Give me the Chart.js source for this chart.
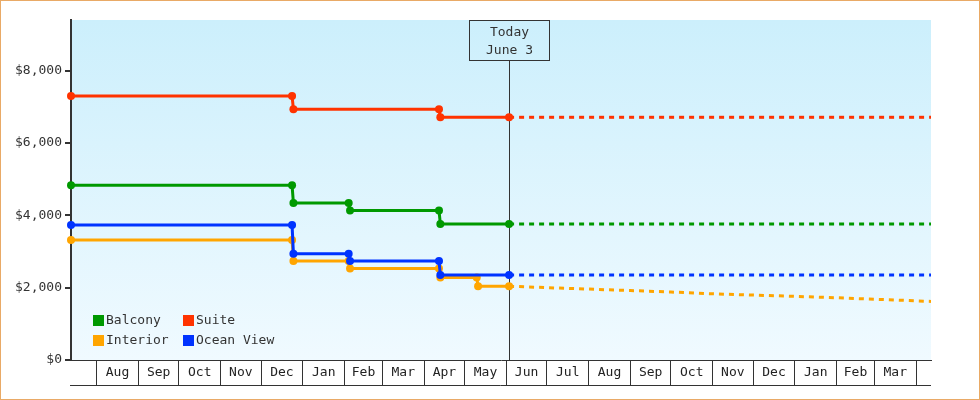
<!DOCTYPE html>
<html>
<head>
<meta charset="utf-8">
<title>Cabin fares</title>
<script src="https://cdn.jsdelivr.net/npm/chart.js@4.4.1/dist/chart.umd.min.js"></script>
<style>
    html, body { margin: 0; padding: 0; background: #ffffff; }
    #wrap { width: 980px; height: 400px; }
</style>
</head>
<body>
<div id="wrap"><canvas id="fareChart" width="980" height="400"></canvas></div>
<script>
const seriesNames = ["Balcony", "Suite", "Interior", "Ocean View"];
const monthNames = ["Jan", "Feb", "Mar", "Apr", "May", "Jun", "Jul", "Aug", "Sep", "Oct", "Nov", "Dec"];
const yTicks = [0, 2000, 4000, 6000, 8000];
const yMax = 9400;

const rangeStart = "2021-07-13";
const rangeEnd = "2023-04-12";
const todayDate = "2022-06-03";
const todayText = ["Today", "June 3"];

const suiteDates = ["2021-07-13", "2021-12-24", "2021-12-25", "2022-04-12", "2022-04-13", "2022-06-03"];
const suitePrices = [7300, 7300, 6930, 6930, 6710, 6710];

const balconyDates = ["2021-07-13", "2021-12-24", "2021-12-25", "2022-02-04", "2022-02-05", "2022-04-12", "2022-04-13", "2022-06-03"];
const balconyPrices = [4830, 4830, 4340, 4340, 4130, 4130, 3760, 3760];

const oceanViewDates = ["2021-07-13", "2021-12-24", "2021-12-25", "2022-02-04", "2022-02-05", "2022-04-12", "2022-04-13", "2022-06-03"];
const oceanViewPrices = [3730, 3730, 2940, 2940, 2740, 2740, 2350, 2350];

const interiorDates = ["2021-07-13", "2021-12-24", "2021-12-25", "2022-02-04", "2022-02-05", "2022-04-12", "2022-04-13", "2022-05-10", "2022-05-11", "2022-06-03"];
const interiorPrices = [3320, 3320, 2740, 2740, 2530, 2530, 2280, 2280, 2040, 2040];

const suiteForecastDates = ["2022-06-03", "2023-04-12"];
const suiteForecastPrices = [6710, 6710];
const balconyForecastDates = ["2022-06-03", "2023-04-12"];
const balconyForecastPrices = [3760, 3760];
const oceanViewForecastDates = ["2022-06-03", "2023-04-12"];
const oceanViewForecastPrices = [2350, 2350];
const interiorForecastDates = ["2022-06-03", "2022-07-01", "2022-08-01", "2022-09-01", "2022-10-01", "2022-11-01", "2022-12-01", "2023-01-01", "2023-02-01", "2023-03-01", "2023-04-12"];
const interiorForecastPrices = [2040, 2000, 1960, 1920, 1880, 1830, 1795, 1760, 1720, 1680, 1620];

const seriesColours = {
    "Balcony": "#009900",
    "Suite": "#ff3300",
    "Interior": "#ffa500",
    "Ocean View": "#0033ff"
};
const textColour = "#333333";
const fontFamily = "'DejaVu Sans Mono', 'Liberation Mono', monospace";

function dayNumber(text) {
    const parts = text.split("-").map(Number);
    return Date.UTC(parts[0], parts[1] - 1, parts[2]) / 86400000;
}

function toPoints(dates, prices) {
    return dates.map((date, index) => ({ x: dayNumber(date), y: prices[index] }));
}

function makeDataset(name, dates, prices, isForecast) {
    const colour = seriesColours[name];
    return {
        label: name,
        data: toPoints(dates, prices),
        borderColor: colour,
        backgroundColor: colour,
        pointBackgroundColor: colour,
        borderWidth: 3,
        borderDash: isForecast ? [5, 5] : [],
        pointRadius: isForecast ? 0 : 4,
        pointHoverRadius: isForecast ? 0 : 4,
        pointBorderWidth: 0,
        tension: 0,
        fill: false,
        clip: false
    };
}

function buildMonthTicks(scale) {
    const ticks = [];
    const first = new Date(scale.min * 86400000);
    const year = first.getUTCFullYear();
    let month = first.getUTCMonth() + 1;

    while (true) {
        const start = Date.UTC(year, month, 1) / 86400000;
        if (start > scale.max) {
            break;
        }
        const next = Date.UTC(year, month + 1, 1) / 86400000;
        ticks.push({ value: start, boundary: true });
        if (next <= scale.max) {
            ticks.push({ value: (start + next) / 2, name: monthNames[month % 12] });
        }
        month++;
    }

    scale.ticks = ticks;
}

const backdrop = {
    id: "backdrop",
    beforeDraw(chart) {
        const { ctx, chartArea, width, height } = chart;
        ctx.save();
        ctx.fillStyle = "#ffffff";
        ctx.fillRect(0, 0, width, height);
        const gradient = ctx.createLinearGradient(0, chartArea.top, 0, chartArea.bottom);
        gradient.addColorStop(0, "#cceffc");
        gradient.addColorStop(1, "#f0faff");
        ctx.fillStyle = gradient;
        ctx.fillRect(chartArea.left, chartArea.top, chartArea.right - chartArea.left, chartArea.bottom - chartArea.top);
        ctx.restore();
    },
    afterDraw(chart) {
        const { ctx, chartArea, width, height } = chart;
        ctx.save();
        ctx.strokeStyle = textColour;
        ctx.lineWidth = 1;
        ctx.beginPath();
        ctx.moveTo(chartArea.left - 1, chartArea.bottom + 25.5);
        ctx.lineTo(chartArea.right, chartArea.bottom + 25.5);
        ctx.stroke();
        ctx.strokeStyle = "#e9aa66";
        ctx.strokeRect(0.5, 0.5, width - 1, height - 1);
        ctx.restore();
    }
};

const todayMarker = {
    id: "todayMarker",
    beforeDatasetsDraw(chart) {
        const { ctx, chartArea, scales } = chart;
        const x = Math.round(scales.x.getPixelForValue(dayNumber(todayDate))) + 0.5;
        const top = chartArea.top + 0.5;

        ctx.save();
        ctx.strokeStyle = textColour;
        ctx.lineWidth = 1;
        ctx.strokeRect(x - 40, top, 80, 40);
        ctx.beginPath();
        ctx.moveTo(x, top + 40);
        ctx.lineTo(x, chartArea.bottom);
        ctx.stroke();
        ctx.fillStyle = textColour;
        ctx.font = "13px " + fontFamily;
        ctx.textAlign = "center";
        ctx.textBaseline = "middle";
        ctx.fillText(todayText[0], x, top + 12.5);
        ctx.fillText(todayText[1], x, top + 30);
        ctx.restore();
    }
};

const cornerLegend = {
    id: "cornerLegend",
    afterDatasetsDraw(chart) {
        const { ctx, chartArea } = chart;
        ctx.save();
        ctx.font = "13px " + fontFamily;
        ctx.textAlign = "left";
        ctx.textBaseline = "middle";

        seriesNames.forEach((name, index) => {
            const column = index % 2;
            const row = Math.floor(index / 2);
            const boxX = chartArea.left + 22 + column * 90;
            const boxY = chartArea.bottom - 45 + row * 20;
            ctx.fillStyle = seriesColours[name];
            ctx.fillRect(boxX, boxY, 11, 11);
            ctx.fillStyle = textColour;
            ctx.fillText(name, boxX + 13, boxY + 6);
        });

        ctx.restore();
    }
};

Chart.defaults.font.family = fontFamily;
Chart.defaults.font.size = 13;

new Chart(document.getElementById("fareChart"), {
    type: "line",
    data: {
        datasets: [
            makeDataset("Suite", suiteDates, suitePrices, false),
            makeDataset("Balcony", balconyDates, balconyPrices, false),
            makeDataset("Ocean View", oceanViewDates, oceanViewPrices, false),
            makeDataset("Interior", interiorDates, interiorPrices, false),
            makeDataset("Suite", suiteForecastDates, suiteForecastPrices, true),
            makeDataset("Balcony", balconyForecastDates, balconyForecastPrices, true),
            makeDataset("Ocean View", oceanViewForecastDates, oceanViewForecastPrices, true),
            makeDataset("Interior", interiorForecastDates, interiorForecastPrices, true)
        ]
    },
    options: {
        responsive: false,
        devicePixelRatio: 1,
        animation: false,
        events: [],
        layout: {
            padding: { top: 20, right: 49, bottom: 0, left: 0 }
        },
        plugins: {
            legend: { display: false },
            tooltip: { enabled: false }
        },
        scales: {
            x: {
                type: "linear",
                min: dayNumber(rangeStart),
                max: dayNumber(rangeEnd),
                afterBuildTicks: buildMonthTicks,
                afterFit: (scale) => { scale.height = 40; },
                border: { color: textColour, width: 1 },
                grid: {
                    drawOnChartArea: false,
                    tickLength: 25,
                    lineWidth: 1,
                    color: (context) => (context.tick && context.tick.boundary ? textColour : "rgba(0,0,0,0)")
                },
                ticks: {
                    autoSkip: false,
                    maxRotation: 0,
                    minRotation: 0,
                    padding: -20,
                    color: "#222222",
                    callback: (value, index, ticks) => ticks[index].name || ""
                }
            },
            y: {
                min: 0,
                max: yMax,
                afterBuildTicks: (scale) => { scale.ticks = yTicks.map((value) => ({ value })); },
                afterFit: (scale) => { scale.width = 71; },
                border: { color: textColour, width: 2 },
                grid: {
                    drawOnChartArea: false,
                    tickLength: 6,
                    lineWidth: 2,
                    color: textColour
                },
                ticks: {
                    padding: 3,
                    color: textColour,
                    callback: (value) => "$" + Number(value).toLocaleString("en-US")
                }
            }
        }
    },
    plugins: [backdrop, todayMarker, cornerLegend]
});
</script>
</body>
</html>
